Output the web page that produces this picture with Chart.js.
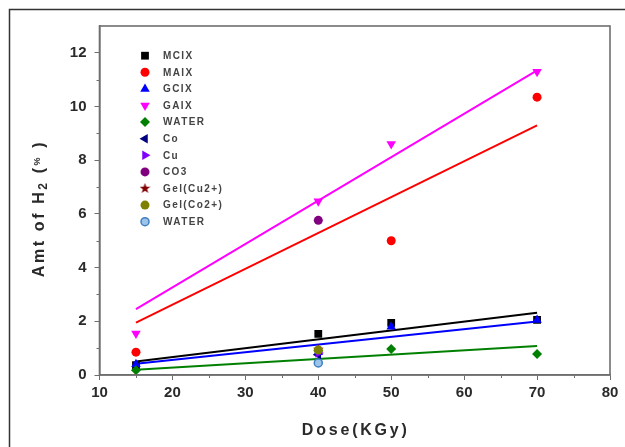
<!DOCTYPE html>
<html>
<head>
<meta charset="utf-8">
<script src="https://cdn.jsdelivr.net/npm/chart.js@4.4.1/dist/chart.umd.min.js"></script>
<style>
  html, body { margin: 0; padding: 0; background: #fff; }
  #wrap { width: 625px; height: 447px; }
</style>
</head>
<body>
<div id="wrap"><canvas id="chartCanvas" width="625" height="447"></canvas></div>
<script>
// dose points (kGy) and measured H2 amounts (%)
const doseX = [15, 40, 50, 70];
const mcix = [0.37, 1.53, 1.94, 2.05];
const maix = [0.85, null, 5.0, 10.35];
const gcix = [0.4, 0.85, 1.8, 2.05];
const gaix = [1.55, 6.47, 8.6, 11.3];
const water = [0.18, 0.9, 0.97, 0.78];
const coIon = [null, 0.75, null, null];
const cuIon = [null, 0.82, null, null];
const co3 = [null, 5.76, null, null];
const gelCu = [null, 0.95, null, null];
const gelCo = [null, 0.93, null, null];
const water2 = [null, 0.45, null, null];

// linear fit lines (end points)
const fitX = [15, 70];
const fitMcix = [0.5, 2.32];
const fitGcix = [0.42, 1.99];
const fitWater = [0.2, 1.08];
const fitMaix = [1.95, 9.3];
const fitGaix = [2.45, 11.35];

const xTicks = [10, 20, 30, 40, 50, 60, 70, 80];
const yTicks = [0, 2, 4, 6, 8, 10, 12];

function pts(xs, ys) {
  return xs.map((x, i) => ({ x: x, y: ys[i] })).filter(p => p.y !== null);
}

// filled five-point star used as a point style
function starImage(color, size) {
  const c = document.createElement('canvas');
  c.width = size; c.height = size;
  const g = c.getContext('2d');
  const cx = size / 2, cy = size / 2, R = size / 2, r = R * 0.42;
  g.beginPath();
  for (let i = 0; i < 10; i++) {
    const a = -Math.PI / 2 + i * Math.PI / 5;
    const rr = i % 2 === 0 ? R : r;
    g.lineTo(cx + rr * Math.cos(a), cy + rr * Math.sin(a));
  }
  g.closePath();
  g.fillStyle = color;
  g.fill();
  return c;
}

const series = [
  { label: 'MCIX', data: mcix, color: '#000000', style: 'rect', radius: 5.5 },
  { label: 'MAIX', data: maix, color: '#ff0000', style: 'circle', radius: 4.5 },
  { label: 'GCIX', data: gcix, color: '#0000ff', style: 'triangle', radius: 5.5 },
  { label: 'GAIX', data: gaix, color: '#ff00ff', style: 'triangle', rotation: 180, radius: 5.5 },
  { label: 'WATER', data: water, color: '#008000', style: 'rectRot', radius: 5 },
  { label: 'Co', data: coIon, color: '#000080', style: 'triangle', rotation: -90, radius: 5.5 },
  { label: 'Cu', data: cuIon, color: '#8000ff', style: 'triangle', rotation: 90, radius: 5.5 },
  { label: 'CO3', data: co3, color: '#800080', style: 'circle', radius: 4.5 },
  { label: 'Gel(Cu2+)', data: gelCu, color: '#800000', style: starImage('#800000', 11), radius: 5 },
  { label: 'Gel(Co2+)', data: gelCo, color: '#808000', style: 'circle', radius: 4.5 },
  { label: 'WATER', data: water2, color: '#3f7fbf', fill: '#9cc3ea', style: 'circle', radius: 4 }
];

const fits = [
  { data: fitMaix, color: '#ff0000' },
  { data: fitGaix, color: '#ff00ff' },
  { data: fitMcix, color: '#000000' },
  { data: fitGcix, color: '#0000ff' },
  { data: fitWater, color: '#008000' }
];

const datasets = series.map((s, i) => ({
  type: 'scatter',
  label: s.label,
  data: pts(doseX, s.data),
  pointStyle: s.style,
  rotation: s.rotation || 0,
  pointRadius: s.radius,
  pointBackgroundColor: s.fill || s.color,
  pointBorderColor: s.color,
  pointBorderWidth: s.fill ? 1.5 : 0,
  backgroundColor: s.color,
  borderColor: s.color,
  order: 50 - i
}));

fits.forEach(f => {
  datasets.push({
    type: 'line',
    label: '',
    isFit: true,
    data: pts(fitX, f.data),
    borderColor: f.color,
    borderWidth: 2,
    pointRadius: 0,
    fill: false,
    order: 100
  });
});

// frame, box, minor ticks, axis titles and the legend column
const decorations = {
  id: 'decorations',
  beforeDraw(chart) {
    const ctx = chart.ctx;
    ctx.save();
    ctx.fillStyle = '#fff';
    ctx.fillRect(0, 0, chart.width, chart.height);
    ctx.strokeStyle = '#333';
    ctx.lineWidth = 1.5;
    ctx.strokeRect(9.5, 9.5, 700, 500);
    ctx.restore();
  },
  afterDraw(chart) {
    const ctx = chart.ctx;
    const a = chart.chartArea;
    const xs = chart.scales.x, ys = chart.scales.y;
    ctx.save();
    // plot box
    ctx.strokeStyle = '#6e6e6e';
    ctx.lineWidth = 1.6;
    ctx.strokeRect(a.left, a.top, a.right - a.left, a.bottom - a.top);
    // minor ticks
    ctx.lineWidth = 1;
    ctx.beginPath();
    for (let v = 15; v < 80; v += 10) {
      const px = Math.round(xs.getPixelForValue(v)) + 0.5;
      ctx.moveTo(px, a.bottom);
      ctx.lineTo(px, a.bottom + 3);
    }
    for (let v = 1; v < 13; v += 2) {
      const py = Math.round(ys.getPixelForValue(v)) + 0.5;
      ctx.moveTo(a.left, py);
      ctx.lineTo(a.left - 3, py);
    }
    ctx.stroke();

    // axis titles
    ctx.fillStyle = '#2a2a2a';
    ctx.textBaseline = 'middle';
    ctx.textAlign = 'center';
    ctx.font = 'bold 16px "Liberation Sans", Arial, sans-serif';
    ctx.letterSpacing = '2.8px';
    ctx.fillText(xs.options.title.text, (a.left + a.right) / 2 + 1, 431);

    ctx.translate(40, (a.top + a.bottom) / 2 + 8);
    ctx.rotate(-Math.PI / 2);
    ctx.textAlign = 'left';
    const parts = [
      { t: 'Amt of H', f: 'bold 16px "Liberation Sans", Arial, sans-serif', dy: 0 },
      { t: '2', f: 'bold 12px "Liberation Sans", Arial, sans-serif', dy: 4 },
      { t: ' (', f: 'bold 16px "Liberation Sans", Arial, sans-serif', dy: 0 },
      { t: '%', f: 'bold 9px "Liberation Sans", Arial, sans-serif', dy: -2 },
      { t: ' )', f: 'bold 16px "Liberation Sans", Arial, sans-serif', dy: 0 }
    ];
    ctx.letterSpacing = '2.6px';
    let total = 0;
    parts.forEach(p => { ctx.font = p.f; total += ctx.measureText(p.t).width; });
    let cx = -total / 2;
    parts.forEach(p => {
      ctx.font = p.f;
      ctx.fillText(p.t, cx, p.dy);
      cx += ctx.measureText(p.t).width;
    });
    ctx.restore();

    // legend
    ctx.save();
    ctx.font = 'bold 10px "Liberation Sans", Arial, sans-serif';
    ctx.letterSpacing = '1.4px';
    ctx.textBaseline = 'middle';
    ctx.textAlign = 'left';
    let row = 0;
    chart.data.datasets.forEach(ds => {
      if (ds.isFit) return;
      const y = 55.7 + row * 16.6;
      ctx.fillStyle = ds.pointBackgroundColor;
      ctx.strokeStyle = ds.pointBorderColor;
      ctx.lineWidth = ds.pointBorderWidth;
      Chart.helpers.drawPoint(ctx, {
        pointStyle: ds.pointStyle,
        rotation: ds.rotation,
        radius: ds.pointRadius,
        borderWidth: ds.pointBorderWidth
      }, 145, y);
      ctx.fillStyle = '#444';
      ctx.fillText(ds.label, 163, y + 0.5);
      row++;
    });
    ctx.restore();
  }
};

const tickFont = { family: '"Liberation Sans", Arial, sans-serif', size: 15, weight: 'bold' };

new Chart(document.getElementById('chartCanvas'), {
  data: { datasets: datasets },
  options: {
    responsive: false,
    animation: false,
    layout: { padding: { left: 0, top: 26, right: 15, bottom: 0 } },
    plugins: {
      legend: { display: false },
      tooltip: { enabled: false }
    },
    scales: {
      x: {
        type: 'linear',
        min: xTicks[0],
        max: xTicks[xTicks.length - 1],
        afterFit(scale) { scale.height = 72; },
        afterBuildTicks(scale) { scale.ticks = xTicks.map(v => ({ value: v })); },
        ticks: { font: tickFont, color: '#2a2a2a', padding: 4, maxRotation: 0 },
        grid: { drawOnChartArea: false, tickLength: 5, color: '#6e6e6e' },
        border: { color: '#6e6e6e', width: 1.6 },
        title: { display: false, text: 'Dose(KGy)' }
      },
      y: {
        type: 'linear',
        min: 0,
        max: 13,
        afterFit(scale) { scale.width = 99.5; },
        afterBuildTicks(scale) { scale.ticks = yTicks.map(v => ({ value: v })); },
        ticks: { font: tickFont, color: '#2a2a2a', padding: 8 },
        grid: { drawOnChartArea: false, tickLength: 5, color: '#6e6e6e' },
        border: { color: '#6e6e6e', width: 1.6 },
        title: { display: false, text: 'Amt of H2 (%)' }
      }
    }
  },
  plugins: [decorations]
});
</script>
</body>
</html>
